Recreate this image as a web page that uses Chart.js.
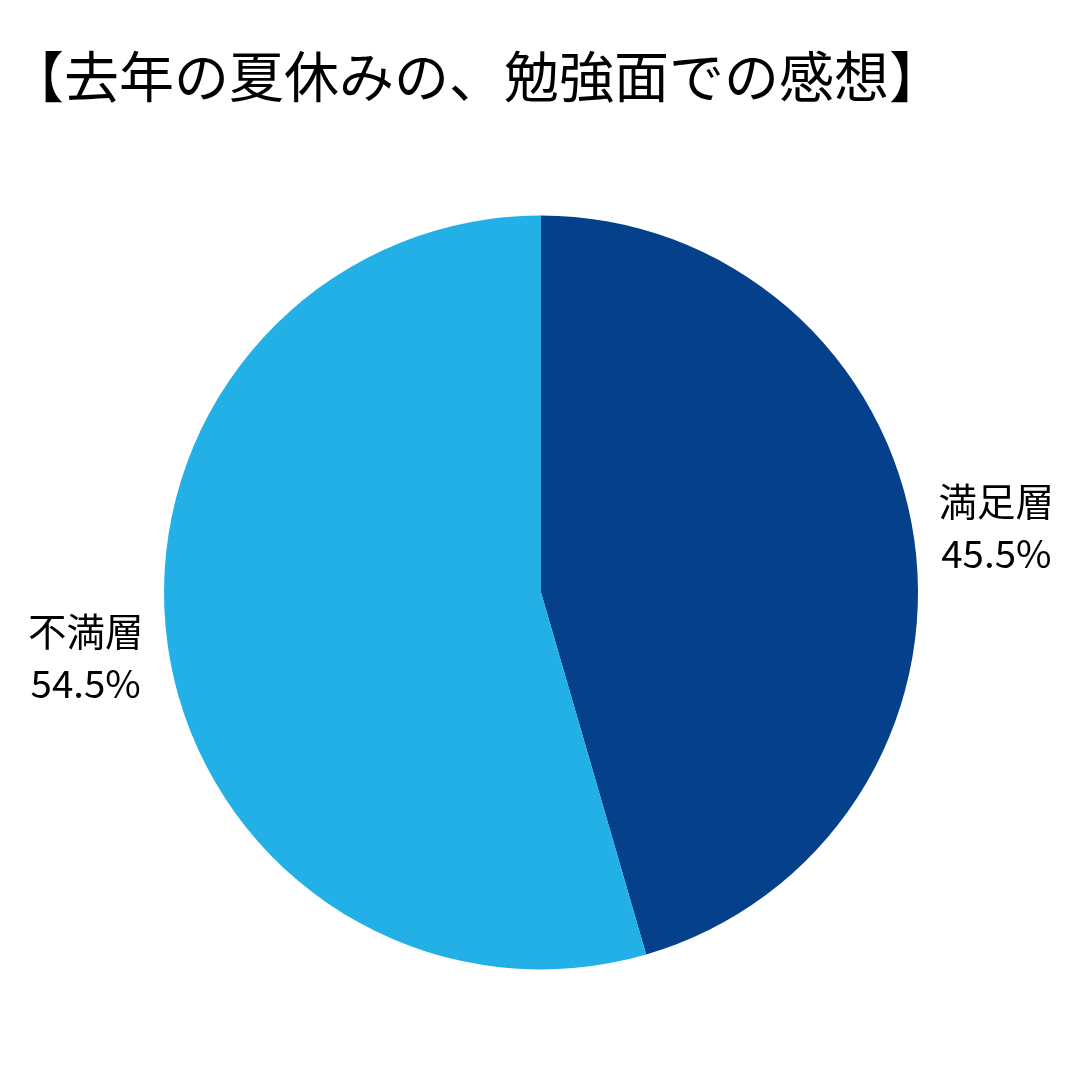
<!DOCTYPE html>
<html><head><meta charset="utf-8">
<script src="https://cdn.jsdelivr.net/npm/chart.js@4"></script>
<style>html,body{margin:0;padding:0;background:#fff}#wrap{width:1080px;height:1080px}</style>
</head><body><div id="wrap"><canvas id="c" width="1080" height="1080"></canvas></div>
<script>
const TITLE = "【去年の夏休みの、勉強面での感想】";
const categories = ["満足層", "不満層"];
const values = [45.5, 54.5];
const colors = ["#04418A", "#22B0E6"];
const FONT = '"Noto Sans CJK JP", "Noto Sans", sans-serif';

const labelPlugin = {
  id: 'labels',
  afterDraw(chart) {
    const ctx = chart.ctx;
    ctx.save();
    ctx.fillStyle = '#000';
    ctx.font = '55px ' + FONT;
    ctx.textBaseline = 'middle';
    ctx.textAlign = 'left';
    ctx.fillText(TITLE, 9, 76);
    const meta = chart.getDatasetMeta(0);
    ctx.font = '38.5px ' + FONT;
    ctx.textAlign = 'center';
    meta.data.forEach((arc, i) => {
      const p = arc.getProps(['x','y','startAngle','endAngle','outerRadius'], true);
      const mid = (p.startAngle + p.endAngle) / 2;
      const R = p.outerRadius * 1.22;
      const x = p.x + Math.cos(mid) * R;
      const y = p.y + Math.sin(mid) * R;
      ctx.fillText(categories[i], x, y - 26);
      ctx.fillText(values[i].toFixed(1) + '%', x, y + 26);
    });
    ctx.restore();
  }
};

new Chart(document.getElementById('c'), {
  type: 'pie',
  data: { labels: categories, datasets: [{ data: values, backgroundColor: colors, borderWidth: 0 }] },
  options: {
    responsive: false, animation: false,
    layout: { padding: { left: 164, right: 162, top: 215, bottom: 110 } },
    plugins: { legend: { display: false }, tooltip: { enabled: false }, title: { display: false } }
  },
  plugins: [labelPlugin]
});
</script></body></html>
